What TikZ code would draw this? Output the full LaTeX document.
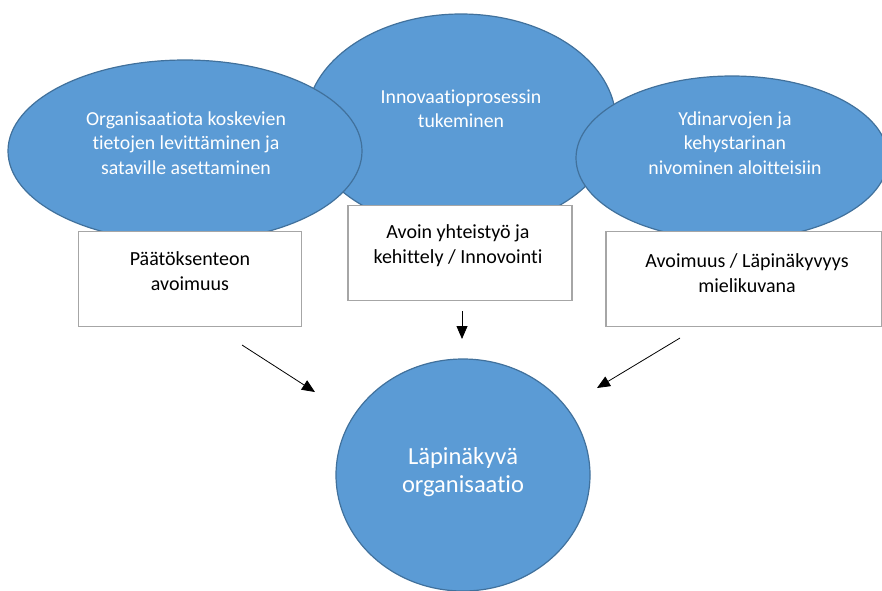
\documentclass[tikz,border=0pt]{standalone}
\usepackage{fontspec}
\setmainfont{Carlito}[Ligatures={NoCommon}]
\usetikzlibrary{arrows.meta,calc,shapes.geometric}
\definecolor{bubfill}{HTML}{5B9BD5}
\definecolor{bubline}{HTML}{41719C}
\definecolor{boxline}{HTML}{A6A6A6}
\tikzset{
    bubble/.style={ellipse,draw=bubline,fill=bubfill,line width=1.2pt,inner sep=0pt},
    bubtext/.style={text=white,align=center,font=\fontsize{19.8}{24.3}\selectfont},
    goaltext/.style={text=white,align=center,font=\fontsize{24.5}{27.5}\selectfont},
    infobox/.style={rectangle,draw=boxline,fill=white,line width=1.6pt,inner sep=0pt},
    boxtext/.style={text=black,align=center,font=\fontsize{20}{25}\selectfont},
    arr/.style={-{Triangle[length=13pt,width=11pt]},line width=0.8pt},
}

\begin{document}
\begin{tikzpicture}[x=1pt,y=-1pt]
    \useasboundingbox (0,0) rectangle (882,590);

    % the three bubbles, middle one behind
    \node[bubble,minimum width=310,minimum height=216] (innov) at (461,122) {};
    \node[bubble,minimum width=354,minimum height=182] (info) at (185,151) {};
    \node[bubble,minimum width=312,minimum height=164] (core) at (732,158) {};

    \node[bubtext] (infotxt) at (186,143) {Organisaatiota koskevien\\tietojen levittäminen ja\\sataville asettaminen};
    \node[bubtext] (innovtxt) at (461,109) {Innovaatioprosessin\\tukeminen};
    \node[bubtext] (coretxt) at (735,143) {Ydinarvojen ja\\kehystarinan\\nivominen aloitteisiin};

    % boxes
    \node[infobox,minimum width=223,minimum height=95] (decide) at (190,279) {};
    \node[infobox,minimum width=224,minimum height=95] (collab) at (460,253) {};
    \node[infobox,minimum width=276,minimum height=95] (image) at (744,279) {};

    \node[boxtext] (decidetxt) at (190,271) {Päätöksenteon\\avoimuus};
    \node[boxtext] (collabtxt) at (458,246) {Avoin yhteistyö ja\\kehittely / Innovointi};
    \node[boxtext] (imagetxt) at (747,273) {Avoimuus / Läpinäkyvyys\\mielikuvana};

    % goal
    \node[bubble,minimum width=254,minimum height=232] (goal) at (463,475) {};
    \node[goaltext] (goaltxt) at (463,472) {Läpinäkyvä\\organisaatio};

    \coordinate (l1) at (242,345);
    \coordinate (l2) at (315,392);
    \coordinate (m1) at (462,311);
    \coordinate (m2) at (462,339);
    \coordinate (r1) at (680,338);
    \coordinate (r2) at (597,388);
    \draw[arr] (l1) -- (l2);
    \draw[arr] (m1) -- (m2);
    \draw[arr] (r1) -- (r2);
\end{tikzpicture}
\end{document}
